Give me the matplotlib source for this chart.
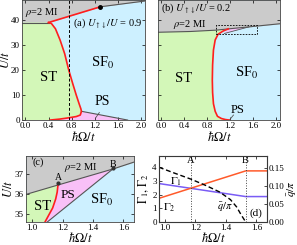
import numpy as np
import matplotlib
matplotlib.use("Agg")
from matplotlib import pyplot as plt

plt.rcParams['font.family'] = ['Liberation Serif', 'DejaVu Serif']
plt.rcParams['mathtext.fontset'] = 'stix'

# colours of the phases
c_st = '#d3f7b8'
c_sf = '#cdf0ff'
c_mi = '#cbcbcb'
c_ps = '#f9c0f7'
c_red = '#ff1e1e'
c_line = '#555555'

# (a) U_ud/U = 0.9
a_mi_x = [-0.06, 0.40, 1.30, 2.07]
a_mi_y = [39.0, 39.0, 45.3, 47.6]
a_red_x = [0.40, 0.45, 0.52, 0.60, 0.68, 0.75, 0.82, 0.88, 0.93, 0.96, 0.97, 0.95, 0.88, 0.75, 0.60, 0.43]
a_red_y = [39.0, 38.6, 36.5, 32.0, 26.5, 20.0, 14.5, 10.0, 6.5, 4.5, 3.5, 2.0, 1.4, 0.9, 0.4, 0.0]
a_ps_x = [0.97, 1.77]
a_ps_y = [3.5, 0.0]
a_dot = (1.30, 45.3)
a_dash = 0.75

# (b) U_ud/U = 0.2
b_mi_x = [-0.06, 0.50, 0.96, 1.17, 1.53, 2.07]
b_mi_y = [35.1, 35.4, 35.95, 36.45, 37.25, 38.5]
b_red_x = [1.17, 1.08, 0.99, 0.94, 0.91, 0.895, 0.89, 0.895, 0.91, 0.94, 0.98, 1.05, 1.12, 1.19]
b_red_y = [36.45, 35.6, 34.3, 32.0, 28.0, 22.0, 16.0, 11.0, 6.5, 3.5, 1.5, 0.6, 0.2, 0.0]

# (c) zoom of (b)
c_mi_x = [0.96, 1.17, 1.53, 1.67]
c_mi_y = [35.98, 36.45, 37.25, 37.6]
c_red_x = [1.085, 1.11, 1.135, 1.155, 1.165, 1.17]
c_red_y = [34.6, 34.95, 35.3, 35.75, 36.1, 36.45]
c_ps_x = [1.10, 1.53]
c_ps_y = [34.6, 37.25]
c_box = [0.96, 1.67, 34.6, 37.9]

# (d)
d_x = [0.96, 1.53, 1.67]
gamma1 = [2.80, 1.85, 1.85]
gamma2 = [1.72, 3.72, 3.72]
q_x = [0.96, 1.06, 1.17, 1.27, 1.36, 1.43, 1.47, 1.50, 1.53]
q_y = [0.152, 0.136, 0.119, 0.101, 0.083, 0.062, 0.042, 0.020, 0.0]
point_A = 1.17
point_B = 1.53


def style(ax):
    ax.tick_params(direction='in', length=2, width=0.5, labelsize=6.5, pad=1.5,
                   top=True, right=True)
    for s in ax.spines.values():
        s.set_linewidth(0.6)
        s.set_color('#444444')


fig = plt.figure(figsize=(2.97, 2.45), dpi=100)

# ---- panel (a)
ax = fig.add_axes([0.074, 0.51, 0.414, 0.49])
ax.set_xlim(-0.06, 2.07)
ax.set_ylim(0, 48)
ax.set_facecolor(c_sf)
ax.fill_between(a_mi_x, a_mi_y, 48, color=c_mi, lw=0)
ax.fill(np.r_[-0.06, -0.06, a_red_x], np.r_[0, 39.0, a_red_y], color=c_st, lw=0)
ax.fill(np.r_[a_red_x[10:], a_ps_x[::-1]], np.r_[a_red_y[10:], a_ps_y[::-1]], color=c_ps, lw=0)
ax.plot(a_mi_x[:2], a_mi_y[:2], color=c_line, lw=0.8)
ax.plot(a_mi_x[2:], a_mi_y[2:], color=c_line, lw=0.8)
ax.plot(a_ps_x, a_ps_y, color=c_line, lw=0.8)
ax.plot(np.r_[a_mi_x[1:3]], np.r_[a_mi_y[1:3]], color=c_red, lw=1.2)
ax.plot(a_red_x, a_red_y, color=c_red, lw=1.2)
ax.plot(*a_dot, 'o', color='k', ms=2.5)
ax.axvline(a_dash, color='k', ls='--', lw=0.7, dashes=(3, 2))
ax.plot([1.22, 1.28], [1.0, 3.0], color=c_line, lw=0.6)
ax.text(0.0, 43.2, r'$\rho$=2 MI', fontsize=7.5, va='center')
ax.text(0.82, 38.8, r'(a) $U_{\uparrow\downarrow}/U$ = 0.9', fontsize=7.5, va='center')
ax.text(0.40, 17, 'ST', fontsize=10.5, ha='center', va='center')
ax.text(1.33, 23, r'SF$_0$', fontsize=10.5, ha='center', va='center')
ax.text(1.33, 7.3, 'PS', fontsize=10, ha='center', va='center')
ax.set_xticks([0.0, 0.4, 0.8, 1.2, 1.6, 2.0])
ax.set_yticks([0, 10, 20, 30, 40])
ax.set_xlabel(r'$\hbar\Omega/t$', fontsize=9, labelpad=0)
ax.set_ylabel(r'$U/t$', fontsize=9)
ax.yaxis.set_label_coords(-0.085, 0.5)
style(ax)

# ---- panel (b)
ax = fig.add_axes([0.532, 0.51, 0.41, 0.49])
ax.set_xlim(-0.06, 2.07)
ax.set_ylim(0, 48)
ax.set_facecolor(c_sf)
ax.fill_between(b_mi_x, b_mi_y, 48, color=c_mi, lw=0)
ax.fill(np.r_[-0.06, -0.06, 0.50, 0.96, b_red_x], np.r_[0, 35.1, 35.4, 35.95, b_red_y],
        color=c_st, lw=0)
ax.fill(np.r_[c_red_x, c_ps_x[::-1]], np.r_[c_red_y, c_ps_y[::-1]], color=c_ps, lw=0)
ax.plot(b_mi_x, b_mi_y, color=c_line, lw=0.8)
ax.plot(c_ps_x, c_ps_y, color=c_line, lw=0.6)
ax.plot(b_red_x, b_red_y, color=c_red, lw=1.2)
ax.plot([c_box[0], c_box[1], c_box[1], c_box[0], c_box[0]],
        [c_box[2], c_box[2], c_box[3], c_box[3], c_box[2]],
        color='k', ls='--', lw=0.6, dashes=(2, 1.5))
ax.plot([1.20, 1.26], [0.3, 2.0], color=c_line, lw=0.6)
ax.text(0.0, 44.7, r'(b) $U_{\uparrow\downarrow}/U$ = 0.2', fontsize=7.5, va='center')
ax.text(0.20, 38.4, r'$\rho$=2 MI', fontsize=7.5, va='center')
ax.text(0.38, 16.5, 'ST', fontsize=10.5, ha='center', va='center')
ax.text(1.50, 19, r'SF$_0$', fontsize=10.5, ha='center', va='center')
ax.text(1.33, 4.0, 'PS', fontsize=9, ha='center', va='center')
ax.set_xticks([0.0, 0.4, 0.8, 1.2, 1.6, 2.0])
ax.set_yticks([0, 10, 20, 30, 40])
ax.set_yticklabels([])
ax.set_xlabel(r'$\hbar\Omega/t$', fontsize=9, labelpad=0)
style(ax)

# ---- panel (c)
ax = fig.add_axes([0.0875, 0.094, 0.364, 0.269])
ax.set_xlim(c_box[0], c_box[1])
ax.set_ylim(c_box[2], c_box[3])
ax.set_facecolor(c_sf)
ax.fill_between(c_mi_x, c_mi_y, c_box[3], color=c_mi, lw=0)
ax.fill(np.r_[c_box[0], c_box[0], c_red_x[::-1]], np.r_[c_box[2], c_mi_y[0], c_red_y[::-1]],
        color=c_st, lw=0)
ax.fill(np.r_[c_red_x, c_ps_x[::-1]], np.r_[c_red_y, c_ps_y[::-1]], color=c_ps, lw=0)
ax.plot(c_mi_x, c_mi_y, color=c_line, lw=0.8)
ax.plot(c_ps_x, c_ps_y, color=c_line, lw=0.8)
ax.plot(c_red_x, c_red_y, color=c_red, lw=1.2)
ax.plot([point_A, point_B], [c_mi_y[1] + 0.08, c_mi_y[2] + 0.05], 'o', color='#333333', ms=2)
ax.text(point_A, 36.85, 'A', fontsize=7, ha='center', va='center')
ax.text(point_B, 37.48, 'B', fontsize=7, ha='center', va='center')
ax.text(1.005, 37.6, '(c)', fontsize=7.5, va='center')
ax.text(1.32, 37.35, r'$\rho$=2 MI', fontsize=7.5, ha='center', va='center')
ax.text(1.07, 35.35, 'ST', fontsize=10.5, ha='center', va='center')
ax.text(1.235, 35.95, 'PS', fontsize=9.5, ha='center', va='center')
ax.text(1.46, 35.7, r'SF$_0$', fontsize=10.5, ha='center', va='center')
ax.set_xticks([1.0, 1.2, 1.4, 1.6])
ax.set_yticks([35, 36, 37])
ax.set_xlabel(r'$\hbar\Omega/t$', fontsize=9, labelpad=-1)
ax.set_ylabel(r'$U/t$', fontsize=9)
ax.yaxis.set_label_coords(-0.10, 0.5)
style(ax)

# ---- panel (d)
ax = fig.add_axes([0.535, 0.094, 0.364, 0.269])
ax2 = ax.twinx()
ax.set_xlim(c_box[0], c_box[1])
ax.set_ylim(0, 4.8)
ax2.set_ylim(0, 0.183)
ax.plot(d_x, gamma1, color='#7a5cf5', lw=1.1)
ax.plot(d_x, gamma2, color='#ff5a2a', lw=1.1)
ax2.plot(q_x, q_y, color='k', ls='--', lw=1.0, dashes=(3.5, 2))
for xv in [point_A, point_B]:
    ax.axvline(xv, color='#444444', ls=':', lw=0.7)
ax.text(point_A, 4.45, 'A', fontsize=7.5, ha='center', va='center')
ax.text(point_B, 4.45, 'B', fontsize=7.5, ha='center', va='center')
ax.text(1.07, 2.95, r'$\Gamma_1$', fontsize=8, ha='center', va='center')
ax.text(1.03, 1.05, r'$\Gamma_2$', fontsize=8, ha='center', va='center')
ax.text(1.39, 1.1, r'$\bar{q}/\pi$', fontsize=7.5, ha='center', va='center')
ax.text(1.60, 0.65, '(d)', fontsize=8, ha='center', va='center')
ax.set_xticks([1.0, 1.2, 1.4, 1.6])
ax.set_yticks([0, 1, 2, 3, 4])
ax2.set_yticks([0.0, 0.05, 0.10, 0.15])
ax2.set_yticklabels(['0.00', '0.05', '0.10', '0.15'])
ax.set_xlabel(r'$\hbar\Omega/t$', fontsize=9, labelpad=-1)
ax.set_ylabel(r'$\Gamma_1,\,\Gamma_2$', fontsize=8.5, labelpad=1)
ax2.set_ylabel(r'$\bar{q}/\pi$', fontsize=8)
ax2.yaxis.set_label_coords(1.17, 0.5)
ax.tick_params(direction='in', length=2, width=0.5, labelsize=6.5, pad=1.5, top=True)
ax2.tick_params(direction='in', length=2, width=0.5, labelsize=6.5, pad=1.5)
for s in ax2.spines.values():
    s.set_linewidth(0.6)
    s.set_color('#444444')

fig.savefig('out.png', dpi=100)
